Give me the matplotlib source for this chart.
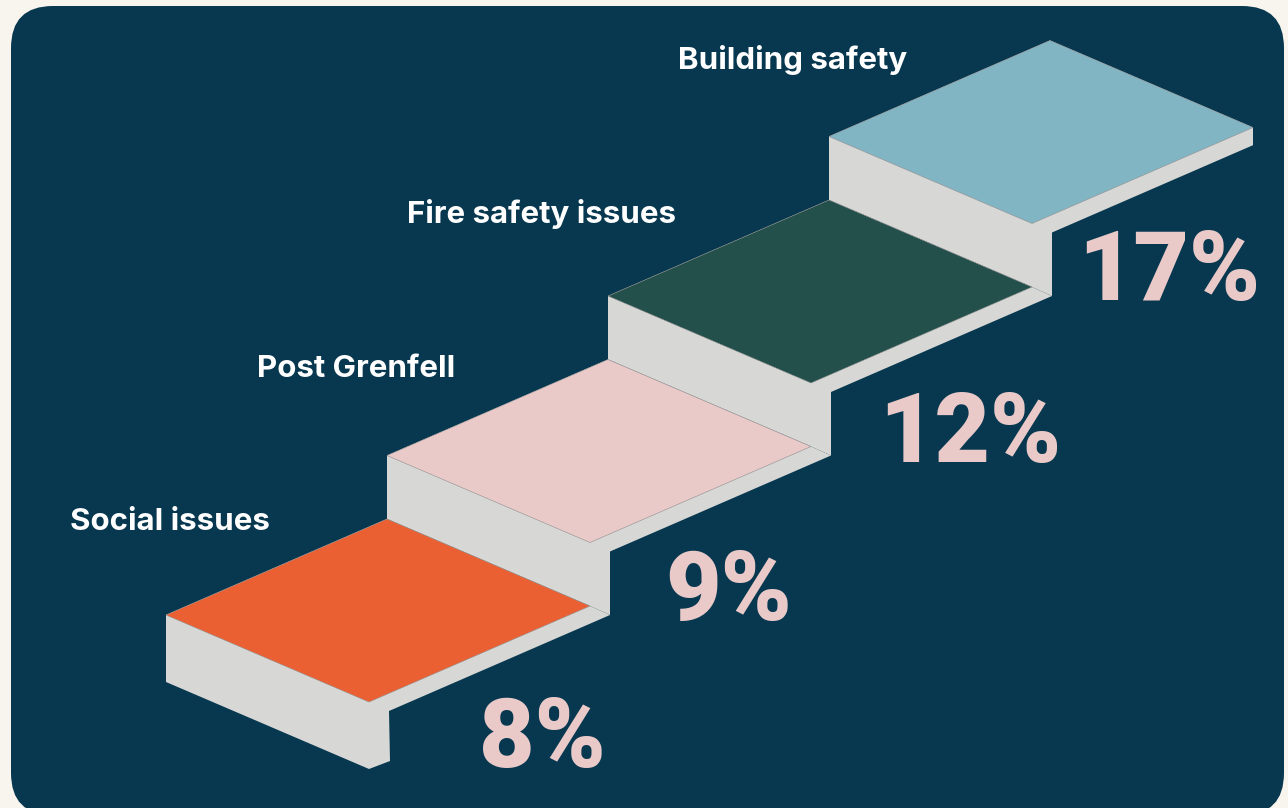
import numpy as np
import matplotlib.pyplot as plt
from matplotlib.patches import Polygon, FancyBboxPatch

# data
categories = ['Social issues', 'Post Grenfell', 'Fire safety issues', 'Building safety']
shares = [8, 9, 12, 17]
step_colors = ['#EB6033', '#EAC9C9', '#23504A', '#82B5C4']

# layout (pixel space, y down)
label_pos = [(70, 530), (257, 377), (407, 223), (678, 69)]
pct_pos = [(542, 767), (729, 620), (970, 462), (1169, 300)]

panel_col = '#07384F'
cream = '#F8F4EE'
grey = '#D7D7D5'
pink_txt = '#EAC9C9'

P0 = np.array([166.0, 615.0])   # left corner of the lowest tread
A = np.array([221.0, -96.0])    # along tread width (up the stairs)
B = np.array([203.0, 87.0])     # tread depth
D = np.array([20.0, 9.0])       # side strip
E = np.array([21.0, -8.0])
rise = 63.5
base_h = 67.0

fig = plt.figure(figsize=(12.88, 8.08), dpi=100)
fig.patch.set_facecolor(cream)
ax = fig.add_axes([0, 0, 1, 1])
ax.set_xlim(0, 1288)
ax.set_ylim(808, 0)
ax.axis('off')

ax.add_patch(FancyBboxPatch((11, 6), 1273, 809,
                            boxstyle='round,pad=0,rounding_size=42',
                            fc=panel_col, ec='none', zorder=0))

n = len(shares)
for i in range(n):
    L = P0 + i * A + np.array([0, -rise * i])
    T = L + A
    F = L + B
    R = L + A + B
    h = base_h if i == 0 else rise
    down = np.array([0, h])
    turn = F + down + (E if i == 0 else D)
    if i < n - 1:
        end = R + D
    else:
        end = F + D + (A[0] - D[0]) / A[0] * A
    pts = [L, L + down, F + down, turn, F + D, end, R, T]
    ax.add_patch(Polygon(pts, closed=True, fc=grey, ec='none', zorder=1))
    ax.add_patch(Polygon([L, T, R, F], closed=True, fc=step_colors[i],
                         ec='#8f8f8f', lw=0.4, zorder=2))

for i, name in enumerate(categories):
    x, y = label_pos[i]
    ax.text(x, y, name, color='white', fontsize=22.5, fontweight='bold',
            family=['Inter', 'DejaVu Sans'], ha='left', va='baseline', zorder=3)
    x, y = pct_pos[i]
    ax.text(x, y, '%d%%' % shares[i], color=pink_txt, fontsize=69, fontweight='black',
            family=['Roboto', 'DejaVu Sans'], ha='center', va='baseline', zorder=3)

fig.savefig('out.png', dpi=100, facecolor=cream)
